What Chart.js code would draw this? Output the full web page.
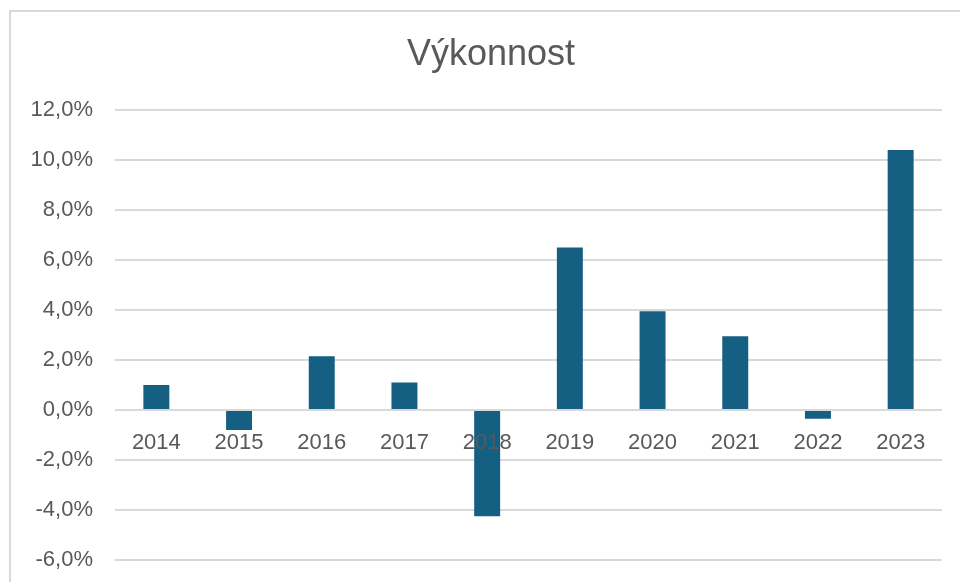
<!DOCTYPE html>
<html>
<head>
<meta charset="utf-8">
<script src="https://cdn.jsdelivr.net/npm/chart.js@4/dist/chart.umd.min.js"></script>
<style>
  html, body { margin: 0; padding: 0; background: #ffffff; }
  #wrap { position: relative; width: 960px; height: 582px; overflow: hidden; }
  #frame { position: absolute; left: 9px; top: 10px; width: 1000px; height: 1000px;
           border-left: 2px solid #d9d9d9; border-top: 2px solid #d9d9d9; box-sizing: border-box; }
  canvas { position: absolute; left: 0; top: 0; }
</style>
</head>
<body>
<div id="wrap">
  <div id="frame"></div>
  <canvas id="c" width="960" height="582"></canvas>
</div>
<script>
const titleText = 'Výkonnost';
const categories = ['2014', '2015', '2016', '2017', '2018', '2019', '2020', '2021', '2022', '2023'];
const performance = [1.0, -0.8, 2.15, 1.1, -4.25, 6.5, 3.95, 2.95, -0.35, 10.4];
const yTicks = { min: -6, max: 12, step: 2 };

const textColor = '#595959';
const fontFamily = '"Liberation Sans", Arial, sans-serif';

// The original chart frame extends past the right edge, so its title sits right of the canvas centre.
const titleShift = {
  id: 'titleShift',
  afterLayout(chart) {
    const t = chart.titleBlock;
    if (t) { t.left += 20; t.right += 20; }
  }
};

new Chart(document.getElementById('c'), {
  type: 'bar',
  data: {
    labels: categories,
    datasets: [{
      label: titleText,
      data: performance,
      backgroundColor: '#156082',
      borderWidth: 0,
      categoryPercentage: 1.0,
      barPercentage: 0.314
    }]
  },
  options: {
    responsive: false,
    animation: false,
    devicePixelRatio: 1,
    layout: { padding: { left: 0, right: 18, top: 0, bottom: 22 } },
    plugins: {
      legend: { display: false },
      tooltip: { enabled: false },
      title: {
        display: true,
        text: titleText,
        color: textColor,
        font: { family: fontFamily, size: 36, weight: 'normal', lineHeight: 1.2 },
        padding: { top: 33.4, bottom: 33.4 }
      }
    },
    scales: {
      x: {
        position: { y: 0 },
        grid: { display: false, drawTicks: false },
        border: { display: false },
        ticks: {
          z: 1,
          color: textColor,
          padding: 20,
          maxRotation: 0,
          autoSkip: false,
          font: { family: fontFamily, size: 22 }
        }
      },
      y: {
        min: yTicks.min,
        max: yTicks.max,
        afterFit: (s) => { s.width = 115; s.paddingTop = 0; s.paddingBottom = 0; },
        grid: { color: '#d9d9d9', lineWidth: 2, drawTicks: false },
        border: { display: false },
        ticks: {
          stepSize: yTicks.step,
          color: textColor,
          padding: 22,
          font: { family: fontFamily, size: 22 },
          callback: (v) => v.toFixed(1).replace('.', ',') + '%'
        }
      }
    }
  },
  plugins: [titleShift]
});
</script>
</body>
</html>
